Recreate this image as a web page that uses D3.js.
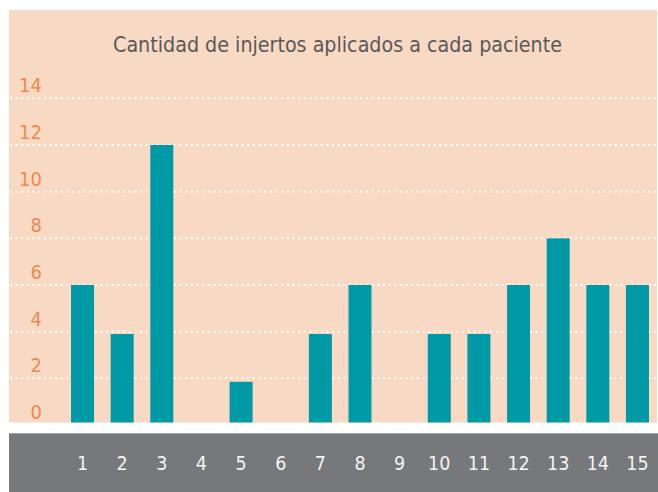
<!DOCTYPE html>
<html>
<head>
<meta charset="utf-8">
<script src="https://cdn.jsdelivr.net/npm/d3@7"></script>
<style>
  body { margin: 0; background: #fff; }
  svg { display: block; }
</style>
</head>
<body>
<script>
// data
var pacientes = ["1","2","3","4","5","6","7","8","9","10","11","12","13","14","15"];
var injertos = [6, 3.9, 12, 0, 1.85, 0, 3.9, 6, 0, 3.9, 3.9, 6, 8, 6, 6];
var yTicks = [0, 2, 4, 6, 8, 10, 12, 14];
var titulo = "Cantidad de injertos aplicados a cada paciente";

var width = 658, height = 492;
var font = "'DejaVu Sans Condensed', 'Liberation Sans Narrow', 'Roboto', sans-serif";

var svg = d3.select("body").append("svg")
    .attr("width", width)
    .attr("height", height);

// panel background
svg.append("rect")
    .attr("x", 9).attr("y", 10)
    .attr("width", 648).attr("height", 412.5)
    .attr("fill", "#f8d9c3");

// bottom grey band
svg.append("rect")
    .attr("x", 9).attr("y", 433)
    .attr("width", 649).attr("height", 59)
    .attr("fill", "#77787c");
svg.append("line")
    .attr("x1", 9).attr("x2", 658)
    .attr("y1", 433.5).attr("y2", 433.5)
    .attr("stroke", "#a3a4a7").attr("stroke-width", 1);

var x = d3.scaleBand()
    .domain(pacientes)
    .range([62.7, 657.3])
    .paddingInner(0.42)
    .paddingOuter(0.21);

var y = d3.scaleLinear()
    .domain([0, 14])
    .range([425, 98.3]);

// dotted gridlines
svg.append("g").selectAll("line")
    .data(yTicks.filter(function(d) { return d > 0; }))
    .enter().append("line")
    .attr("x1", 10).attr("x2", 657)
    .attr("y1", function(d) { return y(d); })
    .attr("y2", function(d) { return y(d); })
    .attr("stroke", "#ffffff")
    .attr("stroke-width", 2)
    .attr("stroke-dasharray", "2,3.65");

// y labels
svg.append("g").selectAll("text")
    .data(yTicks)
    .enter().append("text")
    .attr("x", 42)
    .attr("y", function(d) { return y(d) - 6; })
    .attr("text-anchor", "end")
    .attr("font-family", font)
    .attr("font-size", 20)
    .attr("fill", "#ee8a4f")
    .text(function(d) { return d; });

// bars, clipped at panel bottom
svg.append("defs").append("clipPath")
    .attr("id", "panel")
    .append("rect")
    .attr("x", 9).attr("y", 10)
    .attr("width", 648).attr("height", 412.5);

svg.append("g")
    .attr("clip-path", "url(#panel)")
    .selectAll("rect")
    .data(injertos)
    .enter().append("rect")
    .attr("x", function(d, i) { return x(pacientes[i]); })
    .attr("width", x.bandwidth())
    .attr("y", function(d) { return y(d); })
    .attr("height", function(d) { return y(0) - y(d); })
    .attr("fill", "#0099a6");

// x labels in the grey band
svg.append("g").selectAll("text")
    .data(pacientes)
    .enter().append("text")
    .attr("x", function(d) { return x(d) + x.bandwidth() / 2; })
    .attr("y", 470)
    .attr("text-anchor", "middle")
    .attr("font-family", font)
    .attr("font-size", 19.5)
    .attr("fill", "#f4f4f4")
    .text(function(d) { return d; });

// title, sized so it spans the same width as in the reference
var title = svg.append("text")
    .attr("x", 337.5)
    .attr("y", 52.3)
    .attr("text-anchor", "middle")
    .attr("font-family", font)
    .attr("font-size", 24)
    .attr("fill", "#58595b")
    .text(titulo);
var w = title.node().getComputedTextLength();
title.attr("font-size", Math.min(26, 24 * 449 / w));
</script>
</body>
</html>
